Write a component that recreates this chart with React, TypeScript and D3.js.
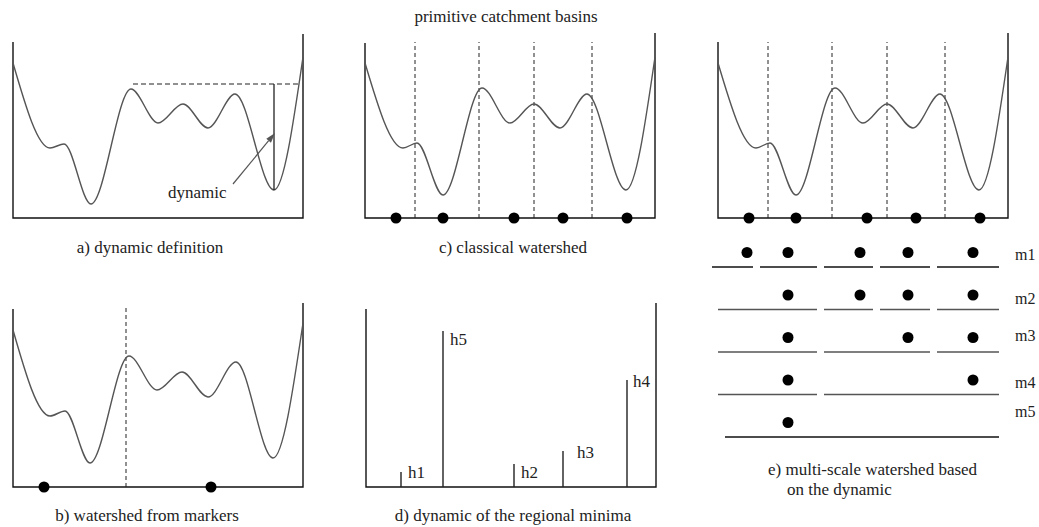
import React from "react";
import * as d3 from "d3";

// ---- data (x along the profile, height above the baseline) ----
const profileA: [number, number][] = [[0,155],[37,70],[51,74],[78,14],[118,129],[145,95],[170,114],[195,90],[222,124],[261,28],[290,161]];
const profileB: [number, number][] = [[0,157],[37,71],[52,76],[77,24],[116,131],[144,97],[169,115],[195,90],[223,125],[260,29],[290,164]];
const profileC: [number, number][] = [[0,155],[38,70],[52,75],[78,23],[117,130],[145,95],[169,114],[195,90],[222,124],[261,28],[290,161]];

const dynamicLevel = 134;
const dynamicFrom = 120;
const dynamicTo = 285;
const dynamicMin: [number, number] = [261, 28];
const arrowTail: [number, number] = [220, 34];
const arrowHead: [number, number] = [262, 85];

const markerBoundaries = [113];
const markerPositions = [31, 198];

const basinBoundaries = [50, 114, 169, 227];
const minimaPositions = [31, 78, 149, 198, 262];

const dynamicNames = ["h1", "h5", "h2", "h3", "h4"];
const dynamicX = [35, 77, 148, 197, 261];
const dynamicHeights = [15, 156, 23, 36, 107];

const scaleNames = ["m1", "m2", "m3", "m4", "m5"];
const scaleSegments: [number, number][][] = [
  [[-6,35],[42,99],[106,155],[162,212],[219,281]],
  [[0,99],[106,155],[162,212],[219,281]],
  [[0,99],[106,212],[219,281]],
  [[0,99],[106,281]],
  [[7,281]],
];
const scaleMarkers = [
  [29,70,142,190,255],
  [70,142,190,255],
  [70,190,255],
  [70,255],
  [70],
];

const FONT = "'Liberation Serif', 'Times New Roman', serif";
const TXT = "#222";

type Frame = { left: number; bottom: number; leftTop: number; rightTop: number };

function makeScales(f: { left: number; bottom: number }) {
  const x = d3.scaleLinear().domain([0, 290]).range([f.left, f.left + 290]);
  const y = d3.scaleLinear().domain([0, 200]).range([f.bottom, f.bottom - 200]);
  return { x, y };
}

function Axes({ f }: { f: Frame }) {
  const { x, y } = makeScales(f);
  const p = d3.path();
  p.moveTo(x(0), y(f.leftTop));
  p.lineTo(x(0), y(0));
  p.lineTo(x(290), y(0));
  p.lineTo(x(290), y(f.rightTop));
  return <path d={p.toString()} fill="none" stroke="#111" strokeWidth={1.4} />;
}

function Profile({ f, data }: { f: Frame; data: [number, number][] }) {
  const { x, y } = makeScales(f);
  const line = d3.line<[number, number]>().x(d => x(d[0])).y(d => y(d[1])).curve(d3.curveMonotoneX);
  return <path d={line(data) || ""} fill="none" stroke="#555" strokeWidth={1.4} />;
}

function Dashes({ f, xs, top }: { f: Frame; xs: number[]; top: number }) {
  const { x, y } = makeScales(f);
  return (
    <g>
      {xs.map((v, i) => (
        <line key={i} x1={x(v)} x2={x(v)} y1={y(0)} y2={y(top)} stroke="#222" strokeWidth={1} strokeDasharray="4,3" />
      ))}
    </g>
  );
}

function Dots({ f, xs }: { f: Frame; xs: number[] }) {
  const { x, y } = makeScales(f);
  return (
    <g>
      {xs.map((v, i) => (
        <circle key={i} cx={x(v)} cy={y(0)} r={5.5} fill="#000" />
      ))}
    </g>
  );
}

export default function App() {
  const fa: Frame = { left: 13, bottom: 218, leftTop: 176, rightTop: 184 };
  const fc: Frame = { left: 365, bottom: 218, leftTop: 175, rightTop: 185 };
  const fe: Frame = { left: 718, bottom: 218, leftTop: 176, rightTop: 185 };
  const fb: Frame = { left: 13, bottom: 487, leftTop: 178, rightTop: 184 };
  const fd: Frame = { left: 366, bottom: 487, leftTop: 178, rightTop: 184 };

  const sa = makeScales(fa);
  const sd = makeScales(fd);
  const ex = makeScales(fe).x;
  const rowY = d3.scalePoint<string>().domain(scaleNames).range([267, 437]);

  const labelDx = [7, 7, 7, 14, 6];
  const labelY = [478, 345, 478, 458, 387];
  const mLabelDy = [-7, -6, -11, -7, -20];

  // arrow geometry
  const ax1 = sa.x(arrowTail[0]), ay1 = sa.y(arrowTail[1]);
  const ax2 = sa.x(arrowHead[0]), ay2 = sa.y(arrowHead[1]);
  const ang = Math.atan2(ay2 - ay1, ax2 - ax1);
  const hl = 10, hw = 3;
  const bx = ax2 - hl * Math.cos(ang), by = ay2 - hl * Math.sin(ang);
  const head = `M${ax2},${ay2}L${bx + hw * Math.sin(ang)},${by - hw * Math.cos(ang)}L${bx - hw * Math.sin(ang)},${by + hw * Math.cos(ang)}Z`;

  return (
    <svg width={1039} height={527} style={{ position: "absolute", left: 0, top: 0, background: "#fff" }}
      fontFamily={FONT} fontSize={17} fill={TXT}>
      <text x={506} y={22} textAnchor="middle">primitive catchment basins</text>

      {/* a) */}
      <Axes f={fa} />
      <Profile f={fa} data={profileA} />
      <line x1={sa.x(dynamicFrom)} x2={sa.x(dynamicTo)} y1={sa.y(dynamicLevel)} y2={sa.y(dynamicLevel)}
        stroke="#222" strokeWidth={1.2} strokeDasharray="5,3" />
      <line x1={sa.x(dynamicMin[0])} x2={sa.x(dynamicMin[0])} y1={sa.y(dynamicMin[1])} y2={sa.y(dynamicLevel)}
        stroke="#222" strokeWidth={1.3} />
      <line x1={ax1} y1={ay1} x2={bx} y2={by} stroke="#555" strokeWidth={1.2} />
      <path d={head} fill="#555" />
      <text x={sa.x(155)} y={sa.y(20)}>dynamic</text>
      <text x={150} y={253} textAnchor="middle">a) dynamic definition</text>

      {/* c) */}
      <Axes f={fc} />
      <Dashes f={fc} xs={basinBoundaries} top={176} />
      <Profile f={fc} data={profileC} />
      <Dots f={fc} xs={minimaPositions} />
      <text x={513} y={253} textAnchor="middle">c) classical watershed</text>

      {/* e) */}
      <Axes f={fe} />
      <Dashes f={fe} xs={basinBoundaries} top={176} />
      <Profile f={fe} data={profileC} />
      <Dots f={fe} xs={minimaPositions} />
      {scaleNames.map((name, r) => {
        const ly = rowY(name)!;
        const col = r === 0 || r === 4 ? "#111" : "#555";
        return (
          <g key={name}>
            {scaleSegments[r].map((s, j) => (
              <line key={j} x1={ex(s[0])} x2={ex(s[1])} y1={ly} y2={ly} stroke={col} strokeWidth={1.4} />
            ))}
            {scaleMarkers[r].map((m, j) => (
              <circle key={j} cx={ex(m)} cy={ly - 14.5} r={5.5} fill="#000" />
            ))}
            <text x={1015} y={ly + mLabelDy[r]} fontSize={16}>{name}</text>
          </g>
        );
      })}
      <text x={768} y={475}>e) multi-scale watershed based</text>
      <text x={787} y={495}>on the dynamic</text>

      {/* b) */}
      <Axes f={fb} />
      <Dashes f={fb} xs={markerBoundaries} top={179} />
      <Profile f={fb} data={profileB} />
      <Dots f={fb} xs={markerPositions} />
      <text x={147} y={521} textAnchor="middle">b) watershed from markers</text>

      {/* d) */}
      <Axes f={fd} />
      {dynamicNames.map((n, i) => (
        <g key={n}>
          <line x1={sd.x(dynamicX[i])} x2={sd.x(dynamicX[i])} y1={sd.y(0)} y2={sd.y(dynamicHeights[i])}
            stroke="#222" strokeWidth={1.4} />
          <text x={sd.x(dynamicX[i]) + labelDx[i]} y={labelY[i]}>{n}</text>
        </g>
      ))}
      <text x={513} y={521} textAnchor="middle">d) dynamic of the regional minima</text>
    </svg>
  );
}
